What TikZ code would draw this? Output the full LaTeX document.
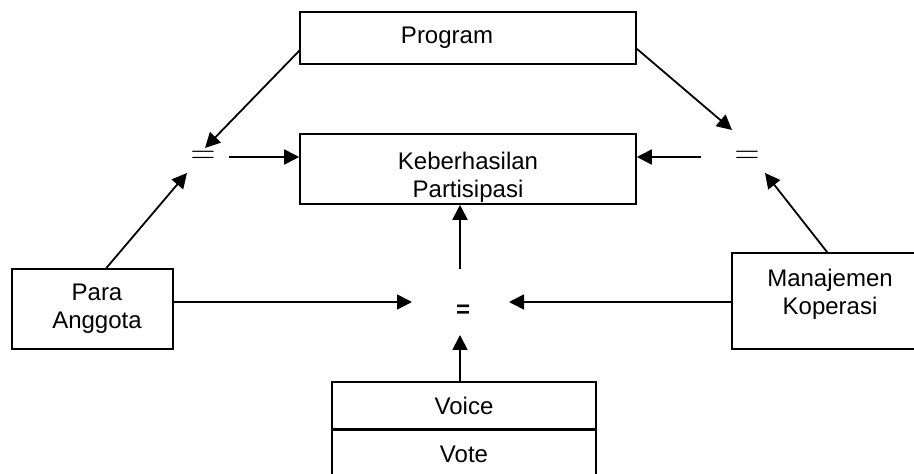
\documentclass[tikz,border=0pt]{standalone}
\usepackage{fontspec}
\setmainfont{Liberation Sans}
\usetikzlibrary{arrows.meta,calc}
\begin{document}
\begin{tikzpicture}[x=0.5pt,y=-0.5pt,
  box/.style={draw,line width=0.8pt,rectangle,inner sep=0pt,align=center,font=\fontsize{12}{14}\selectfont},
  txt/.style={align=center,inner sep=0pt,font=\fontsize{12}{14}\selectfont},
  conn/.style={line width=0.9pt,-{Triangle[length=7.5pt,width=7.5pt]}},
  eqthin/.style={inner sep=0pt,font=\fontsize{16}{16}\selectfont},
  eqbold/.style={inner sep=0pt,font=\fontsize{12}{12}\selectfont\bfseries}]
\useasboundingbox (0,0) rectangle (914,474);
% boxes
\node[box,minimum width=168pt,minimum height=26pt] (prog) at (468,38) {};
\node[txt] (progtext) at (447,38) {Program};
\node[box,minimum width=168pt,minimum height=35pt] (keb) at (468,169) {};
\node[txt] (kebtext) at (468,177) {Keberhasilan\\Partisipasi};
\node[box,minimum width=80.5pt,minimum height=40pt] (para) at (92.5,309) {};
\node[txt] (paratext) at (97,309) {Para\\Anggota};
\node[box,minimum width=92pt,minimum height=48pt] (mk) at (824,301) {};
\node[txt] (mktext) at (830,294) {Manajemen\\Koperasi};
\node[box,minimum width=132pt,minimum height=23.5pt] (voice) at (464,405.5) {Voice};
\node[box,minimum width=132pt,minimum height=23.5pt,anchor=north] (vote) at (voice.south) {Vote};
% equals signs
\node[eqthin] (eqL) at (203,157) {$=$};
\node[eqthin] (eqR) at (747,157) {$=$};
\node[eqbold] (eqM) at (463,311) {=};
% connector end points around the equals signs
\coordinate (eqLout) at ($(eqL)+(26,0)$);
\coordinate (eqLtop) at ($(eqL)+(2,-9)$);
\coordinate (eqLbot) at ($(eqL)+(-16,16)$);
\coordinate (eqRout) at ($(eqR)+(-46,0)$);
\coordinate (eqRtop) at ($(eqR)+(-15,-27)$);
\coordinate (eqRbot) at ($(eqR)+(18,16)$);
\coordinate (eqMleft) at ($(eqM)+(-51,-9)$);
\coordinate (eqMright) at ($(eqM)+(46,-9)$);
\coordinate (eqMtop) at ($(eqM)+(-3,-42)$);
\coordinate (eqMbot) at ($(eqM)+(-3,24)$);
% connectors
\draw[conn] (eqLout) -- (keb.west |- eqLout);
\draw[conn] (eqRout) -- (keb.east |- eqRout);
\draw[conn] ($(prog.south west)+(0,-14)$) -- (eqLtop);
\draw[conn] ($(prog.south east)+(0,-16)$) -- (eqRtop);
\draw[conn] ($(para.north west)+(95,0)$) -- (eqLbot);
\draw[conn] ($(mk.north west)+(96,0)$) -- (eqRbot);
\draw[conn] (para.east |- eqMleft) -- (eqMleft);
\draw[conn] (mk.west |- eqMright) -- (eqMright);
\draw[conn] (voice.north -| eqMbot) -- (eqMbot);
\draw[conn] (eqMtop) -- (keb.south -| eqMtop);
\end{tikzpicture}
\end{document}
